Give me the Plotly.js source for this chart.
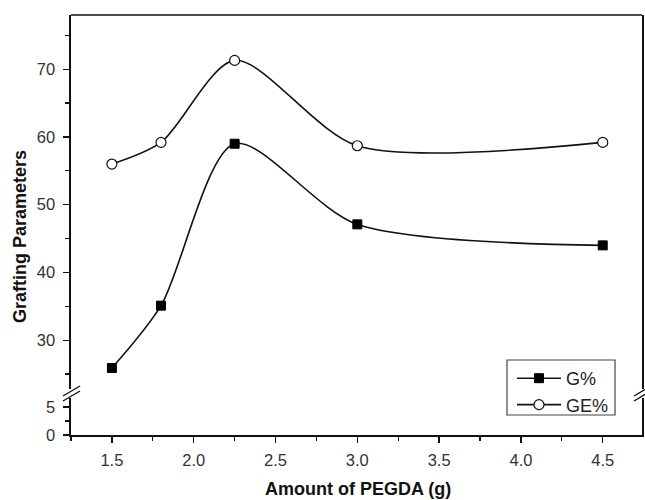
<!DOCTYPE html>
<html><head><meta charset="utf-8">
<script src="https://cdn.plot.ly/plotly-3.0.1.min.js"></script>
<style>body{margin:0;background:#fff}#chart{width:645px;height:500px}</style>
</head><body><div id="chart"></div>
<script>
var pegda = [1.5, 1.8, 2.25, 3.0, 4.5];
var gPercent = [25.9, 35.1, 59.0, 47.1, 44.0];
var gePercent = [56.0, 59.2, 71.3, 58.7, 59.2];
var seriesNames = ['G%', 'GE%'];
var xTicks = [1.5, 2.0, 2.5, 3.0, 3.5, 4.0, 4.5];
var xTickText = ['1.5', '2.0', '2.5', '3.0', '3.5', '4.0', '4.5'];
var upperTicks = [30, 40, 50, 60, 70];
var lowerTicks = [0, 5];

var fam = 'Liberation Sans, Arial, sans-serif';
var tickFont = {family: fam, size: 16.5, color: '#333'};

var traces = [
  {x: pegda, y: gPercent, name: seriesNames[0], type: 'scatter', mode: 'lines+markers',
   xaxis: 'x', yaxis: 'y',
   line: {shape: 'spline', smoothing: 0.8, color: '#111', width: 1.6},
   marker: {symbol: 'square', size: 9, color: '#000', line: {color: '#000', width: 1}}},
  {x: pegda, y: gePercent, name: seriesNames[1], type: 'scatter', mode: 'lines+markers',
   xaxis: 'x', yaxis: 'y',
   line: {shape: 'spline', smoothing: 0.8, color: '#111', width: 1.6},
   marker: {symbol: 'circle', size: 10, color: '#fff', line: {color: '#111', width: 1.2}}}
];

var L = 71, R = 642, T = 15, B = 435;
var W = R - L, H = B - T;
function px(x){ return (x - L) / W; }
function py(y){ return (B - y) / H; }

var lineStyle = {color: '#111', width: 1.6};
var brk = {color: '#111', width: 1.4};
var shapes = [
  {type: 'line', xref: 'paper', yref: 'paper', x0: 0, x1: 1, y0: 1, y1: 1, line: lineStyle},
  {type: 'line', xref: 'paper', yref: 'paper', x0: px(63), x1: px(80), y0: py(396), y1: py(386), line: brk},
  {type: 'line', xref: 'paper', yref: 'paper', x0: px(63), x1: px(80), y0: py(401), y1: py(391), line: brk},
  {type: 'line', xref: 'paper', yref: 'paper', x0: px(634), x1: px(651), y0: py(396), y1: py(386), line: brk},
  {type: 'line', xref: 'paper', yref: 'paper', x0: px(634), x1: px(651), y0: py(401), y1: py(391), line: brk},
  {type: 'rect', xref: 'paper', yref: 'paper', x0: px(507), x1: px(615), y0: py(415), y1: py(360),
   line: {color: '#444', width: 1.2}, fillcolor: 'rgba(0,0,0,0)'}
];

var layout = {
  width: 645, height: 500,
  margin: {l: L, r: 645 - R, t: T, b: 500 - B},
  paper_bgcolor: '#fff', plot_bgcolor: '#fff',
  showlegend: true,
  legend: {x: px(512), y: py(360), xanchor: 'left', yanchor: 'top',
    borderwidth: 0, bgcolor: 'rgba(0,0,0,0)',
    font: {family: fam, size: 18, color: '#222'},
    tracegroupgap: 0, itemwidth: 44},
  xaxis: {anchor: 'y2', range: [1.25, 4.74], tickvals: xTicks, ticktext: xTickText,
    showgrid: false, zeroline: false, showline: true, linecolor: '#111', linewidth: 1.6,
    ticks: 'outside', ticklen: 6, tickwidth: 1.4, tickcolor: '#111', ticklabelstandoff: 4,
    minor: {dtick: 0.25, tick0: 0, ticks: 'outside', ticklen: 4, tickwidth: 1.2, tickcolor: '#111'},
    tickfont: tickFont},
  yaxis: {domain: [py(389), 1], range: [22.8, 78], tickvals: upperTicks,
    showgrid: false, zeroline: false, showline: true, mirror: true, linecolor: '#111', linewidth: 1.6,
    ticks: 'outside', ticklen: 6, tickwidth: 1.4, tickcolor: '#111', ticklabelstandoff: 5,
    minor: {dtick: 5, tick0: 0, ticks: 'outside', ticklen: 4, tickwidth: 1.2, tickcolor: '#111'},
    tickfont: tickFont},
  yaxis2: {domain: [0, py(398)], range: [0, 6.6], tickvals: lowerTicks,
    showgrid: false, zeroline: false, showline: true, mirror: true, linecolor: '#111', linewidth: 1.6,
    ticks: 'outside', ticklen: 6, tickwidth: 1.4, tickcolor: '#111', ticklabelstandoff: 5,
    minor: {dtick: 2.5, tick0: 0, ticks: 'outside', ticklen: 4, tickwidth: 1.2, tickcolor: '#111'},
    tickfont: tickFont},
  shapes: shapes,
  annotations: [
    {text: '<b>Grafting Parameters</b>', xref: 'paper', yref: 'paper', x: px(20), y: py(237),
     showarrow: false, textangle: -90, font: {family: fam, size: 18, color: '#111'}, xanchor: 'center', yanchor: 'middle'},
    {text: '<b>Amount of PEGDA (g)</b>', xref: 'paper', yref: 'paper', x: px(358), y: py(489),
     showarrow: false, font: {family: fam, size: 18, color: '#111'}, xanchor: 'center', yanchor: 'middle'}
  ]
};

traces.push({x: [], y: [], xaxis: 'x', yaxis: 'y2', type: 'scatter', showlegend: false, hoverinfo: 'skip'});

Plotly.newPlot('chart', traces, layout, {displayModeBar: false, staticPlot: true});
</script></body></html>
